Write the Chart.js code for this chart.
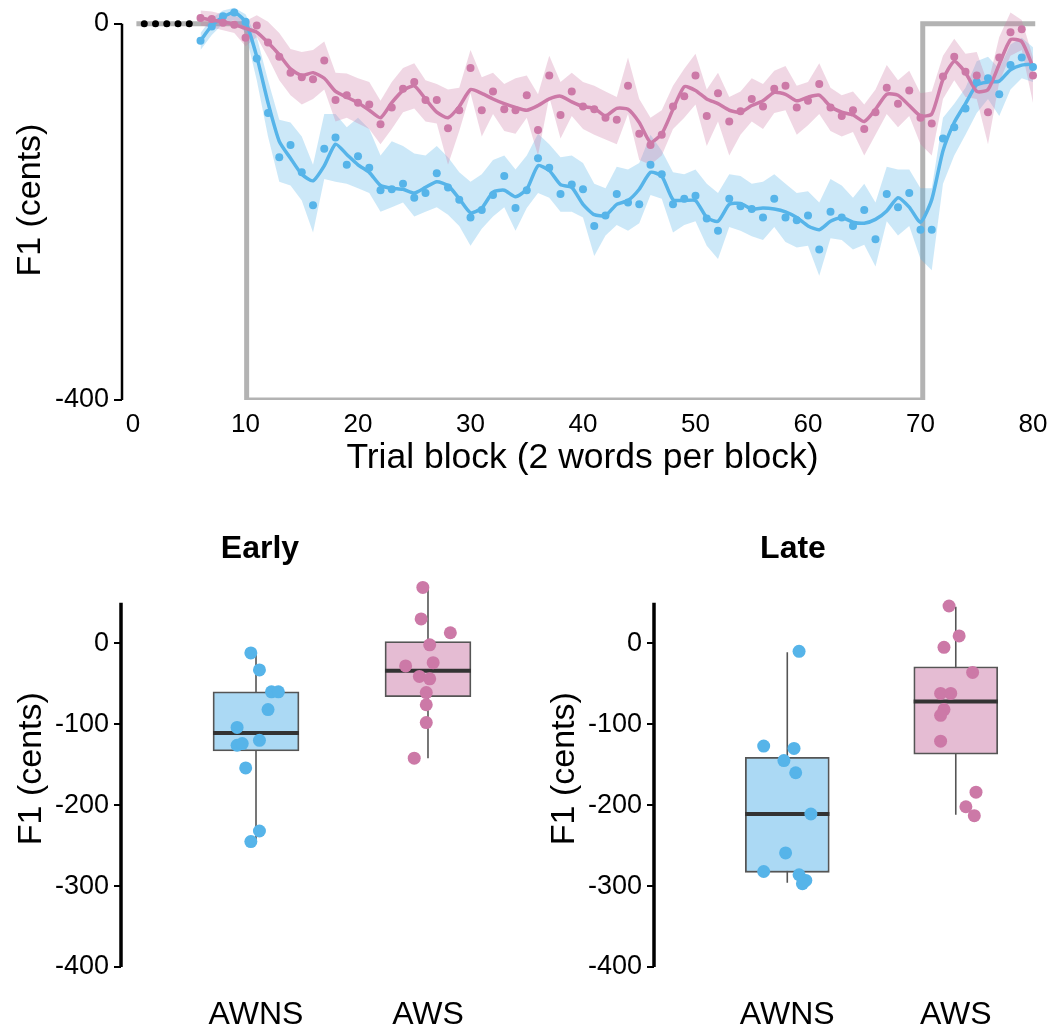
<!DOCTYPE html>
<html lang="en">
<head>
    <meta charset="UTF-8">
    <title>F1 adaptation by trial block</title>
    <script src="https://cdn.jsdelivr.net/npm/chart.js"></script>
    <style>
        body { margin: 0; background: #fff; }
        #wrap { position: relative; width: 1053px; height: 1028px; overflow: hidden; }
        canvas { position: absolute; }
        /* shifted up so the y axis label padding sits above the page edge */
        #trialChart { left: 0; top: -21px; }
        #earlyChart { left: 0; top: 520px; }
        #lateChart { left: 533px; top: 520px; }
    </style>
</head>
<body>
<div id="wrap">
    <canvas id="trialChart" width="1053" height="501"></canvas>
    <canvas id="earlyChart" width="520" height="508"></canvas>
    <canvas id="lateChart" width="520" height="508"></canvas>
</div>

<script>
// ---- top panel: F1 change per trial block ----
const blocks = [6,7,8,9,10,11,12,13,14,15,16,17,18,19,20,21,22,23,24,25,26,27,28,29,30,31,32,33,34,35,
    36,37,38,39,40,41,42,43,44,45,46,47,48,49,50,51,52,53,54,55,56,57,58,59,60,61,62,63,64,65,
    66,67,68,69,70,71,72,73,74,75,76,77,78,79,80];
const baselineBlocks = [1,2,3,4,5];
const baselineValues = [0,0,0,0,0];

// perturbation schedule (grey step)
const perturbX = [0.3, 10.1, 10.1, 70.2, 70.2, 80.2];
const perturbY = [0, 0, -400, -400, 0, 0];

// AWNS (blue)
const awnsPoints = [-18,-3,8,12,2,-37,-95,-142,-129,-158,
    -193,-133,-121,-150,-141,-153,-177,-176,-170,-185,
    -180,-159,-174,-187,-206,-198,-182,-162,-196,-177,
    -143,-153,-181,-171,-176,-215,-204,-181,-190,-192,
    -150,-160,-192,-186,-183,-207,-220,-186,-194,-197,
    -206,-186,-206,-209,-204,-240,-200,-206,-215,-198,
    -229,-181,-195,-180,-219,-219,-122,-110,-90,-62,
    -58,-75,-44,-36,-46];
const awnsSmooth = [-18,-2,7,12,2,-35,-84,-125,-143,-160,
    -167,-151,-128,-139,-150,-158,-172,-175,-176,-180,
    -174,-168,-172,-186,-201,-196,-179,-177,-184,-176,
    -151,-156,-171,-174,-192,-203,-204,-192,-188,-176,
    -158,-162,-187,-188,-188,-206,-210,-192,-191,-197,
    -196,-197,-200,-206,-215,-219,-210,-206,-211,-212,
    -208,-199,-185,-195,-211,-187,-135,-105,-85,-65,
    -62,-61,-49,-44,-43];
const awnsUpper = [-10,6,14,17,10,-14,-60,-102,-105,-120,
    -150,-96,-96,-110,-100,-112,-140,-125,-130,-138,
    -140,-130,-142,-158,-168,-160,-145,-140,-155,-140,
    -117,-128,-142,-140,-148,-170,-175,-152,-155,-148,
    -118,-135,-158,-160,-155,-170,-180,-160,-162,-170,
    -168,-160,-170,-180,-178,-190,-165,-172,-185,-170,
    -190,-152,-155,-155,-175,-175,-100,-85,-68,-40,
    -35,-48,-22,-15,-25];
const awnsLower = [-28,-12,0,4,-10,-60,-120,-168,-172,-188,
    -222,-165,-168,-170,-175,-180,-200,-195,-190,-205,
    -200,-195,-203,-215,-236,-218,-205,-195,-220,-196,
    -180,-185,-200,-200,-206,-247,-225,-214,-220,-212,
    -182,-186,-222,-214,-210,-236,-250,-216,-220,-226,
    -230,-216,-232,-238,-236,-268,-228,-230,-240,-235,
    -258,-210,-225,-215,-250,-262,-170,-140,-118,-95,
    -80,-98,-70,-58,-62];

// AWS (pink)
const awsPoints = [6,5,1,-1,-15,-2,-20,-35,-52,-57,
    -59,-39,-81,-76,-84,-86,-107,-89,-69,-62,
    -81,-81,-111,-92,-47,-92,-72,-91,-92,-76,
    -113,-55,-97,-72,-88,-91,-100,-102,-66,-117,
    -129,-118,-88,-77,-55,-98,-74,-104,-93,-80,
    -88,-69,-66,-89,-82,-64,-89,-98,-92,-112,
    -94,-68,-85,-71,-100,-106,-56,-35,-51,-55,
    -94,-36,-9,-6,-55];
const awsSmooth = [6,4,2,-1,-5,-9,-20,-33,-48,-55,
    -52,-58,-72,-78,-84,-92,-100,-84,-71,-66,
    -80,-94,-100,-88,-70,-74,-80,-85,-89,-92,
    -87,-80,-77,-83,-88,-90,-98,-90,-91,-105,
    -126,-117,-91,-67,-71,-80,-85,-92,-94,-87,
    -82,-73,-75,-82,-78,-76,-88,-94,-97,-104,
    -91,-75,-76,-87,-98,-96,-59,-40,-52,-72,
    -70,-43,-17,-19,-46];
const awsUpper = [14,13,10,9,3,9,2,-10,-27,-30,
    -28,-19,-52,-53,-58,-62,-82,-62,-47,-42,
    -60,-64,-70,-68,-28,-57,-52,-64,-58,-55,
    -75,-34,-62,-52,-62,-66,-72,-78,-36,-80,
    -100,-92,-66,-48,-32,-70,-52,-78,-72,-58,
    -64,-50,-45,-66,-62,-42,-68,-76,-72,-86,
    -70,-44,-60,-50,-74,-72,-34,-16,-32,-30,
    -64,-14,12,4,-36];
const awsLower = [-2,-4,-7,-10,-24,-14,-36,-60,-76,-86,
    -80,-70,-104,-100,-106,-112,-128,-112,-94,-90,
    -104,-106,-150,-114,-74,-120,-96,-114,-117,-100,
    -140,-78,-122,-98,-112,-118,-123,-128,-96,-145,
    -150,-140,-112,-100,-86,-130,-104,-140,-118,-104,
    -112,-95,-92,-118,-108,-96,-114,-120,-115,-140,
    -118,-96,-110,-98,-128,-140,-80,-60,-78,-80,
    -128,-62,-34,-28,-84];

const topXTicks = [0,10,20,30,40,50,60,70,80];
const topYTicks = [0,-400];

// ---- bottom panels: box plots ----
const groupLabels = ['AWNS', 'AWS'];
const boxYTicks = [0,-100,-200,-300,-400];
// [whisker low, q1, median, q3, whisker high]
const earlyAwnsStats = [-246, -133, -111, -60, -11];
const earlyAwsStats = [-142, -66, -34, 2, 69];
const lateAwnsStats = [-296, -283, -211, -141, -11];
const lateAwsStats = [-212, -137, -72, -29, 45];

const earlyAwnsValues = [-12,-33,-60,-60,-82,-104,-120,-126,-124,-154,-232,-245];
const earlyAwnsJitter = [-0.03,0.02,0.09,0.13,0.07,-0.11,0.02,-0.11,-0.08,-0.06,0.02,-0.03];
const earlyAwsValues = [69,30,13,-2,-28,-24,-41,-44,-61,-76,-98,-142];
const earlyAwsJitter = [-0.03,-0.04,0.13,0.01,-0.13,0.03,-0.05,0.01,-0.01,-0.01,-0.01,-0.08];
const lateAwnsValues = [-10,-127,-130,-145,-160,-211,-259,-282,-286,-293,-297];
const lateAwnsJitter = [0.07,-0.14,0.04,-0.02,0.05,0.14,-0.01,-0.14,0.07,0.11,0.09];
const lateAwsValues = [46,9,-5,-36,-62,-62,-82,-89,-121,-184,-202,-213];
const lateAwsJitter = [-0.04,0.02,-0.07,0.10,-0.09,-0.03,-0.07,-0.09,-0.09,0.12,0.06,0.11];

const BLUE = '#56B4E9';
const PINK = '#CC79A7';
const FONT = '"Liberation Sans", Arial, Helvetica, sans-serif';

Chart.defaults.font.family = FONT;
Chart.defaults.color = '#000';

// draws the y axis line only over a value range, like ggplot's axis.line
const axisLine = {
    id: 'axisLine',
    beforeDatasetsDraw(chart, args, opts) {
        const ys = chart.scales.y;
        const ctx = chart.ctx;
        const x = chart.chartArea.left;
        ctx.save();
        ctx.strokeStyle = '#000';
        ctx.lineWidth = opts.width;
        ctx.beginPath();
        ctx.moveTo(x, ys.getPixelForValue(opts.from));
        ctx.lineTo(x, ys.getPixelForValue(opts.to));
        ctx.stroke();
        ctx.restore();
    }
};

const xy = (xs, ys) => xs.map((x, i) => ({ x: x, y: ys[i] }));

function bandPair(upper, lower, color, order) {
    return [
        { data: xy(blocks, upper), borderWidth: 0, pointRadius: 0, backgroundColor: color,
          fill: '+1', order: order, tension: 0 },
        { data: xy(blocks, lower), borderWidth: 0, pointRadius: 0, fill: false, order: order, tension: 0 }
    ];
}

new Chart(document.getElementById('trialChart'), {
    type: 'line',
    data: {
        datasets: [
            { data: xy(perturbX, perturbY), borderColor: '#b3b3b3', borderWidth: 5,
              pointRadius: 0, tension: 0, order: 30, borderJoinStyle: 'miter' },
            ...bandPair(awnsUpper, awnsLower, 'rgba(86,180,233,0.3)', 20),
            ...bandPair(awsUpper, awsLower, 'rgba(204,121,167,0.3)', 19),
            { data: xy(blocks, awnsSmooth), borderColor: BLUE, borderWidth: 3.5, pointRadius: 0,
              tension: 0.2, order: 10 },
            { data: xy(blocks, awsSmooth), borderColor: PINK, borderWidth: 3.5, pointRadius: 0,
              tension: 0.2, order: 9 },
            { data: xy(blocks, awnsPoints), showLine: false, pointRadius: 4, pointBorderWidth: 0,
              pointBackgroundColor: BLUE, order: 5 },
            { data: xy(blocks, awsPoints), showLine: false, pointRadius: 4, pointBorderWidth: 0,
              pointBackgroundColor: PINK, order: 4 },
            { data: xy(baselineBlocks, baselineValues), showLine: false, pointRadius: 3.5,
              pointBorderWidth: 0, pointBackgroundColor: '#000', order: 1 }
        ]
    },
    options: {
        responsive: false,
        animation: false,
        layout: { padding: { left: 0, right: 10, top: 0, bottom: 0 } },
        plugins: {
            legend: { display: false },
            tooltip: { enabled: false },
            axisLine: { from: 0, to: -400, width: 2.5 }
        },
        scales: {
            x: {
                type: 'linear', min: -0.98, max: 80.89,
                afterFit: s => { s.height = 80; },
                afterBuildTicks: s => { s.ticks = topXTicks.map(v => ({ value: v })); },
                grid: { display: false },
                border: { display: false },
                ticks: { font: { size: 26 }, padding: 1, maxRotation: 0 },
                title: { display: true, text: 'Trial block (2 words per block)',
                         font: { size: 35.5 }, padding: 0 }
            },
            y: {
                min: -400, max: 25,
                afterFit: s => { s.width = 122; },
                afterBuildTicks: s => { s.ticks = topYTicks.map(v => ({ value: v })); },
                grid: { drawOnChartArea: false, tickLength: 8, color: '#000', lineWidth: 2 },
                border: { display: false },
                ticks: { font: { size: 27 }, padding: 5 },
                title: { display: true, text: 'F1 (cents)', font: { size: 34 },
                         padding: { top: 10, bottom: 0 } }
            }
        }
    },
    plugins: [axisLine]
});

function boxDatasets(pos, halfWidth, stats, values, jitter, color, fillColor) {
    return [
        { type: 'line', data: [{ x: pos, y: stats[0] }, { x: pos, y: stats[4] }],
          borderColor: '#555', borderWidth: 1.6, pointRadius: 0, order: 6 },
        { type: 'bar', data: [{ x: pos, y: [stats[1], stats[3]] }], grouped: false,
          backgroundColor: fillColor, borderColor: '#555', borderWidth: 1.8,
          borderSkipped: false, order: 5 },
        { type: 'line', data: [{ x: pos - halfWidth, y: stats[2] }, { x: pos + halfWidth, y: stats[2] }],
          borderColor: '#333', borderWidth: 4, pointRadius: 0, order: 4 },
        { type: 'scatter', data: values.map((v, i) => ({ x: pos + jitter[i], y: v })),
          pointRadius: 6.5, pointBorderWidth: 0, pointBackgroundColor: color, order: 1 }
    ];
}

function boxChart(id, title, xMin, xMax, barPx, groups) {
    const datasets = [];
    groups.forEach((g, i) => {
        datasets.push(...boxDatasets(i + 1, 0.25, g.stats, g.values, g.jitter, g.color, g.fill));
    });
    return new Chart(document.getElementById(id), {
        type: 'scatter',
        data: { datasets: datasets },
        options: {
            responsive: false,
            animation: false,
            datasets: { bar: { barThickness: barPx } },
            layout: { autoPadding: false, padding: 0 },
            plugins: {
                legend: { display: false },
                tooltip: { enabled: false },
                title: { display: true, text: title, font: { size: 32, weight: 'bold' },
                         color: '#000', padding: { top: 10, bottom: 2 } },
                axisLine: { from: 50, to: -400, width: 3.5 }
            },
            scales: {
                x: {
                    type: 'linear', min: xMin, max: xMax, offset: false,
                    afterFit: s => { s.height = 61; },
                    afterBuildTicks: s => { s.ticks = [{ value: 1 }, { value: 2 }]; },
                    grid: { display: false, offset: false },
                    border: { display: false },
                    ticks: { font: { size: 32 }, padding: 21, maxRotation: 0,
                             callback: (v, i) => groupLabels[i] }
                },
                y: {
                    min: -400, max: 90,
                    afterFit: s => { s.width = 121; },
                    afterBuildTicks: s => { s.ticks = boxYTicks.map(v => ({ value: v })); },
                    grid: { drawOnChartArea: false, tickLength: 7, color: '#000', lineWidth: 2 },
                    border: { display: false },
                    ticks: { font: { size: 27 }, padding: 5 },
                    title: { display: true, text: 'F1 (cents)', font: { size: 34 },
                             padding: { top: 11, bottom: 0 } }
                }
            }
        },
        plugins: [axisLine]
    });
}

const BLUE_BOX = '#ABD9F4';
const PINK_BOX = '#E5BCD3';

boxChart('earlyChart', 'Early', 0.215, 2.535, 86, [
    { stats: earlyAwnsStats, values: earlyAwnsValues, jitter: earlyAwnsJitter, color: BLUE, fill: BLUE_BOX },
    { stats: earlyAwsStats, values: earlyAwsValues, jitter: earlyAwsJitter, color: PINK, fill: PINK_BOX }
]);

boxChart('lateChart', 'Late', 0.209, 2.577, 84, [
    { stats: lateAwnsStats, values: lateAwnsValues, jitter: lateAwnsJitter, color: BLUE, fill: BLUE_BOX },
    { stats: lateAwsStats, values: lateAwsValues, jitter: lateAwsJitter, color: PINK, fill: PINK_BOX }
]);
</script>
</body>
</html>
